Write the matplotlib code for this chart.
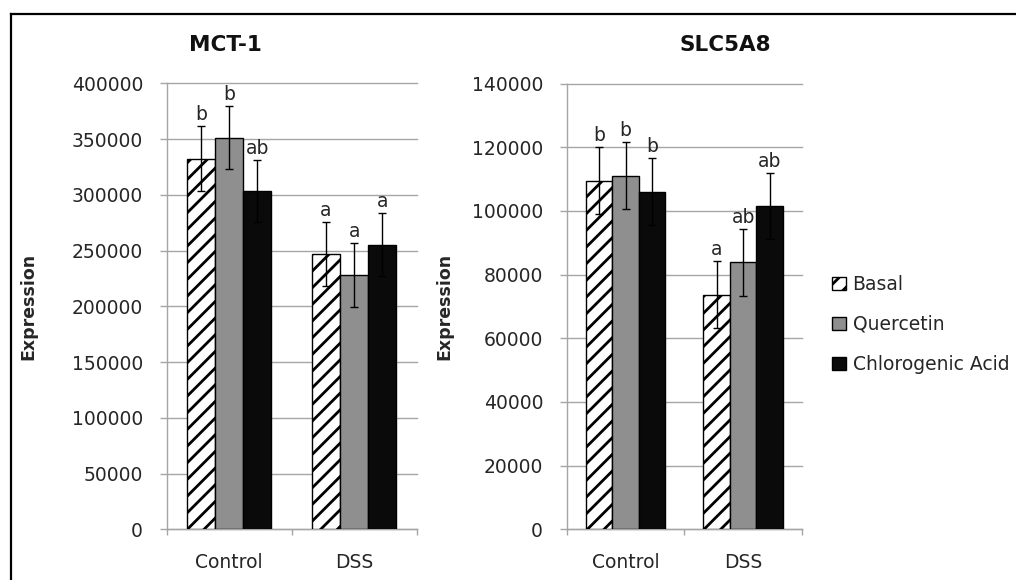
import matplotlib
matplotlib.use("Agg")
import matplotlib.pyplot as plt
from matplotlib.patches import Patch
from matplotlib.lines import Line2D
import numpy as np

plt.rcParams['font.family'] = ['DejaVu Sans']
plt.rcParams['hatch.linewidth'] = 2.0

categories = ["Control", "DSS"]
series = ["Basal", "Quercetin", "Chlorogenic Acid"]

# MCT-1
mct_basal = [332500, 247000]
mct_querc = [351500, 228000]
mct_chlor = [303500, 255500]
mct_basal_err = [29000, 29000]
mct_querc_err = [28500, 28500]
mct_chlor_err = [28000, 28000]
mct_letters = [["b", "a"], ["b", "a"], ["ab", "a"]]

# SLC5A8
slc_basal = [109500, 73700]
slc_querc = [111000, 83800]
slc_chlor = [106000, 101500]
slc_basal_err = [10450, 10450]
slc_querc_err = [10550, 10450]
slc_chlor_err = [10450, 10450]
slc_letters = [["b", "a"], ["b", "ab"], ["b", "ab"]]

mct_ticks = [0, 50000, 100000, 150000, 200000, 250000, 300000, 350000, 400000]
slc_ticks = [0, 20000, 40000, 60000, 80000, 100000, 120000, 140000]

W, H = 1016, 580
fig = plt.figure(figsize=(W / 100, H / 100), dpi=100)

GRID = "#a6a6a6"
TXT = "#262626"
styles = [dict(facecolor="white", edgecolor="black", hatch="//"),
          dict(facecolor="#8f8f8f", edgecolor="black"),
          dict(facecolor="#0a0a0a", edgecolor="black")]


def draw(ax, vals, errs, letters, ticks, title, title_x):
    x = np.arange(len(categories))
    w = 0.225
    offs = [-w, 0, w]
    for i, (v, e, st) in enumerate(zip(vals, errs, styles)):
        ax.bar(x + offs[i], v, width=w, linewidth=1.0, zorder=3, **st)
        ax.errorbar(x + offs[i], v, yerr=e, fmt="none", ecolor="black",
                    elinewidth=1.0, capsize=2.6, capthick=1.0, zorder=4)
        for j in range(len(categories)):
            ax.annotate(letters[i][j], (x[j] + offs[i], v[j] + e[j]),
                        xytext=(0, 1.5), textcoords="offset points",
                        ha="center", va="bottom", fontsize=13.5, color=TXT,
                        zorder=5)
    ax.set_xlim(-0.5, 1.5)
    ax.set_ylim(ticks[0], ticks[-1])
    ax.set_yticks(ticks)
    ax.set_yticklabels([str(t) for t in ticks], fontsize=13.5, color=TXT)
    ax.yaxis.grid(True, color=GRID, linewidth=1.0, zorder=0)
    for gl in ax.yaxis.get_gridlines():
        gl.set_clip_on(False)
    ax.set_axisbelow(True)
    ax.set_xticks([-0.5, 0.5, 1.5])
    ax.set_xticklabels([])
    ax.set_xticks(x, minor=True)
    ax.set_xticklabels(categories, minor=True, fontsize=13.5, color=TXT)
    ax.tick_params(axis="x", which="major", length=4.5, color=GRID, width=1.0)
    ax.tick_params(axis="x", which="minor", length=0, pad=17)
    ax.tick_params(axis="y", length=5, color=GRID, width=1.0, pad=12)
    for s in ["top", "right"]:
        ax.spines[s].set_visible(False)
    for s in ["left", "bottom"]:
        ax.spines[s].set_color(GRID)
        ax.spines[s].set_linewidth(1.0)
    ax.set_ylabel("Expression", fontsize=12.5, fontweight="bold", color=TXT)
    fig.text(title_x / W, 1 - 45 / H, title, ha="center", va="center",
             fontsize=15.5, fontweight="bold", color="#111111")


ax1 = fig.add_axes([166.7 / W, 1 - 529.3 / H, 250 / W, 445.8 / H])
draw(ax1, [mct_basal, mct_querc, mct_chlor],
     [mct_basal_err, mct_querc_err, mct_chlor_err], mct_letters, mct_ticks,
     "MCT-1", 225)
ax1.yaxis.set_label_coords((37 - 166.7) / 250, 0.5)

ax2 = fig.add_axes([566.7 / W, 1 - 529.3 / H, 235.3 / W, 445.8 / H])
draw(ax2, [slc_basal, slc_querc, slc_chlor],
     [slc_basal_err, slc_querc_err, slc_chlor_err], slc_letters, slc_ticks,
     "SLC5A8", 725)
ax2.yaxis.set_label_coords((453 - 566.7) / 235.3, 0.5)

handles = [Patch(linewidth=1.0, **st) for st in styles]
fig.legend(handles, series, loc="upper left",
           bbox_to_anchor=(831.7 / W, 1 - 275 / H), frameon=False,
           fontsize=13.5, handlelength=0.75, handleheight=0.7,
           handletextpad=0.36, labelspacing=1.11, borderpad=0,
           borderaxespad=0, labelcolor=TXT)

# outer frame (left and top edges)
fig.add_artist(Line2D([10.7 / W, 10.7 / W], [0, 1 - 14.3 / H], color="black",
                      linewidth=1.6, transform=fig.transFigure))
fig.add_artist(Line2D([10.7 / W, 1], [1 - 14.3 / H, 1 - 14.3 / H], color="black",
                      linewidth=1.6, transform=fig.transFigure))

fig.savefig("out.png", dpi=100)
